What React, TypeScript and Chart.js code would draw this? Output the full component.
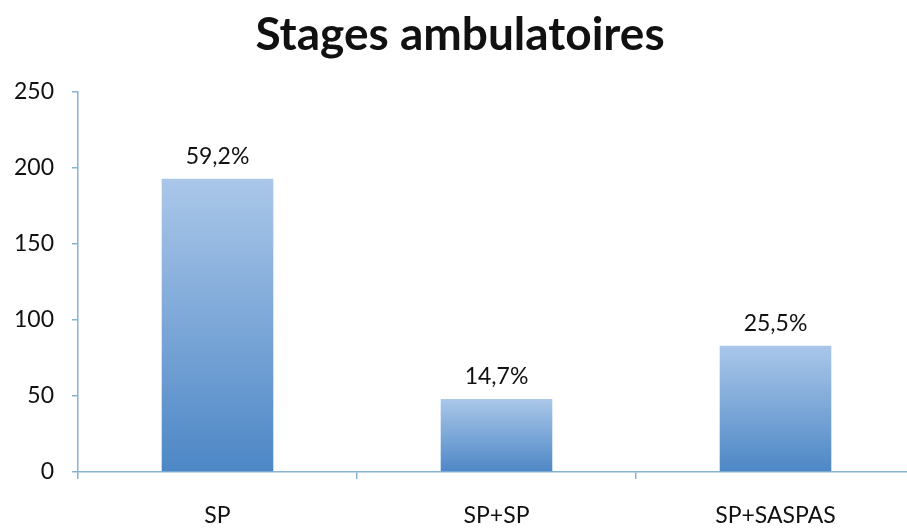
import React, { useEffect, useRef } from "react";
import { Chart, registerables } from "chart.js";

Chart.register(...registerables);

const TITLE = "Stages ambulatoires";
const categories = ["SP", "SP+SP", "SP+SASPAS"];
const values = [193, 48, 83];
const percentLabels = ["59,2%", "14,7%", "25,5%"];
const yMax = 250;
const yStep = 50;

const FONT = "Lato, 'Open Sans', sans-serif";
const TEXT = "#111111";
const AXIS = "#86b4d3";

const CANVAS_W = 920;
const CANVAS_H = 529;

export default function App() {
  const ref = useRef<HTMLCanvasElement | null>(null);

  useEffect(() => {
    const canvas = ref.current;
    if (!canvas) return;

    const titlePlugin = {
      id: "titleDraw",
      afterDraw(chart: any) {
        const ctx = chart.ctx;
        ctx.save();
        ctx.font = `bold 46px ${FONT}`;
        ctx.fillStyle = TEXT;
        ctx.textAlign = "center";
        ctx.textBaseline = "alphabetic";
        ctx.fillText(TITLE, 460, 50);
        ctx.restore();
      },
    };

    const labelPlugin = {
      id: "barLabels",
      afterDatasetsDraw(chart: any) {
        const ctx = chart.ctx;
        const meta = chart.getDatasetMeta(0);
        ctx.save();
        ctx.font = `23px ${FONT}`;
        ctx.fillStyle = TEXT;
        ctx.textAlign = "center";
        ctx.textBaseline = "alphabetic";
        meta.data.forEach((bar: any, i: number) => {
          ctx.fillText(percentLabels[i], bar.x, bar.y - 15);
        });
        ctx.restore();
      },
    };

    const chart = new Chart(canvas, {
      type: "bar",
      data: {
        labels: categories,
        datasets: [
          {
            data: values,
            backgroundColor: (c: any) => {
              const ch = c.chart;
              const area = ch.chartArea;
              if (!area || c.dataIndex === undefined) return "#6f9fd6";
              const ys = ch.scales.y;
              const top = ys.getPixelForValue(values[c.dataIndex]);
              const bottom = ys.getPixelForValue(0);
              const g = ch.ctx.createLinearGradient(0, top, 0, bottom);
              g.addColorStop(0, "#aac7e9");
              g.addColorStop(1, "#4d87c6");
              return g;
            },
            borderWidth: 0,
            categoryPercentage: 1,
            barPercentage: 0.4,
          },
        ],
      },
      options: {
        responsive: false,
        animation: false,
        devicePixelRatio: 1,
        layout: { padding: { top: 92, right: 5, left: 0, bottom: 0 } },
        plugins: {
          legend: { display: false },
          title: { display: false },
          tooltip: { enabled: false },
        },
        scales: {
          x: {
            afterFit: (s: any) => {
              s.height = 57;
            },
            grid: {
              offset: true,
              drawOnChartArea: false,
              drawTicks: true,
              tickLength: 7,
              color: AXIS,
              lineWidth: 1.5,
            },
            border: { color: AXIS, width: 1.5 },
            ticks: {
              color: TEXT,
              font: { family: FONT, size: 23 },
              padding: 23,
              maxRotation: 0,
            },
          },
          y: {
            min: 0,
            max: yMax,
            afterFit: (s: any) => {
              s.width = 78;
            },
            grid: {
              drawOnChartArea: false,
              drawTicks: true,
              tickLength: 6,
              color: AXIS,
              lineWidth: 1.5,
            },
            border: { color: AXIS, width: 1.5 },
            ticks: {
              stepSize: yStep,
              color: TEXT,
              font: { family: FONT, size: 23 },
              padding: 18,
            },
          },
        },
      },
      plugins: [titlePlugin, labelPlugin],
    });

    return () => chart.destroy();
  }, []);

  return (
    <div
      style={{
        position: "fixed",
        left: 0,
        top: 0,
        width: 907,
        height: 529,
        overflow: "hidden",
        background: "#ffffff",
      }}
    >
      <canvas
        ref={ref}
        width={CANVAS_W}
        height={CANVAS_H}
        style={{ width: CANVAS_W, height: CANVAS_H, display: "block" }}
      />
    </div>
  );
}
